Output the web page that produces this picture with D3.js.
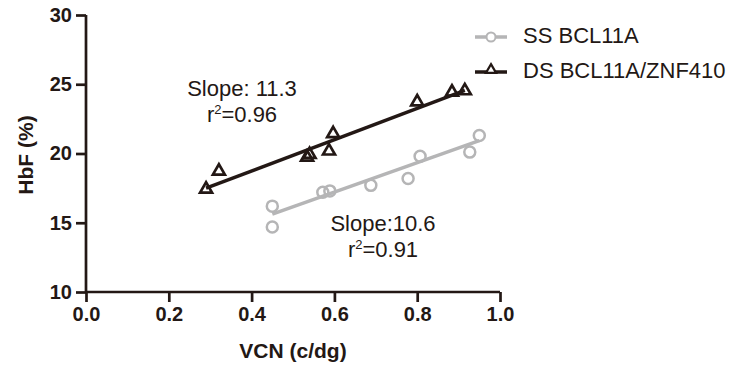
<!DOCTYPE html>
<html>
<head>
<meta charset="utf-8">
<script src="https://cdn.jsdelivr.net/npm/d3@7"></script>
<style>
  body { margin: 0; background: #fff; }
  text { font-family: Arial, "Liberation Sans", sans-serif; }
</style>
</head>
<body>
<div id="chart"></div>
<script>
// SS BCL11A (circles)
const ssVcn = [0.45, 0.45, 0.572, 0.589, 0.688, 0.778, 0.807, 0.927, 0.95];
const ssHbf = [16.2, 14.7, 17.2, 17.3, 17.7, 18.2, 19.8, 20.1, 21.3];
// DS BCL11A/ZNF410 (triangles)
const dsVcn = [0.29, 0.321, 0.534, 0.54, 0.587, 0.597, 0.80, 0.884, 0.915];
const dsHbf = [17.5, 18.8, 19.8, 20.0, 20.25, 21.5, 23.8, 24.5, 24.6];

// fitted lines: [slope, intercept, xStart, xEnd]
const ssFit = [10.6, 10.86, 0.45, 0.95];
const dsFit = [11.3, 14.22, 0.29, 0.915];

const xTicks = [0.0, 0.2, 0.4, 0.6, 0.8, 1.0];
const yTicks = [10, 15, 20, 25, 30];

const dark = "#231815";
const grey = "#b5b5b6";

const svg = d3.select("#chart").append("svg")
  .attr("width", 735)
  .attr("height", 372);

const x = d3.scaleLinear().domain([0, 1]).range([86, 500]);
const y = d3.scaleLinear().domain([10, 30]).range([292, 15]);

// axes
const xAxis = svg.append("g")
  .attr("transform", `translate(0,${y(10)})`)
  .call(d3.axisBottom(x).tickValues(xTicks).tickFormat(d3.format(".1f")).tickSize(10).tickPadding(5));
const yAxis = svg.append("g")
  .attr("transform", `translate(${x(0)},0)`)
  .call(d3.axisLeft(y).tickValues(yTicks).tickSize(10).tickPadding(4));

[xAxis, yAxis].forEach(g => {
  g.select(".domain").attr("stroke", dark).attr("stroke-width", 2.7);
  g.selectAll(".tick line").attr("stroke", dark).attr("stroke-width", 2.7);
  g.selectAll(".tick text")
    .attr("fill", dark)
    .attr("font-size", "20px")
    .attr("font-weight", "bold")
    .attr("font-family", "Arial, 'Liberation Sans', sans-serif");
});
xAxis.select(".domain").attr("d", `M${x(0)},0H${x(1)}`);
yAxis.select(".domain").attr("d", `M0,${y(30)}V${y(10)}`);

// axis titles
svg.append("text")
  .attr("x", 293).attr("y", 358)
  .attr("text-anchor", "middle")
  .attr("font-size", "21px").attr("font-weight", "bold")
  .attr("fill", dark)
  .text("VCN (c/dg)");
svg.append("text")
  .attr("transform", "translate(33,155) rotate(-90)")
  .attr("text-anchor", "middle")
  .attr("font-size", "21px").attr("font-weight", "bold")
  .attr("fill", dark)
  .text("HbF (%)");

// regression lines
function fitLine(fit, color) {
  const [m, b, x0, x1] = fit;
  svg.append("line")
    .attr("x1", x(x0)).attr("y1", y(m * x0 + b))
    .attr("x2", x(x1)).attr("y2", y(m * x1 + b))
    .attr("stroke", color).attr("stroke-width", 3.5);
}
fitLine(ssFit, grey);
fitLine(dsFit, dark);

const tri = d3.symbol().type(d3.symbolTriangle).size(62);

// points
svg.append("g").selectAll("circle")
  .data(ssVcn.map((v, i) => [v, ssHbf[i]]))
  .join("circle")
  .attr("cx", d => x(d[0])).attr("cy", d => y(d[1]))
  .attr("r", 5.5)
  .attr("fill", "none")
  .attr("stroke", grey).attr("stroke-width", 2.5);

svg.append("g").selectAll("path")
  .data(dsVcn.map((v, i) => [v, dsHbf[i]]))
  .join("path")
  .attr("d", tri)
  .attr("transform", d => `translate(${x(d[0])},${y(d[1]) + 1})`)
  .attr("fill", "none")
  .attr("stroke", dark).attr("stroke-width", 2.7);

// annotations
function note(cx, cy, slopeText, rText) {
  svg.append("text")
    .attr("x", cx).attr("y", cy)
    .attr("text-anchor", "middle")
    .attr("font-size", "22px").attr("fill", dark)
    .text(slopeText);
  const t = svg.append("text")
    .attr("x", cx).attr("y", cy + 26)
    .attr("text-anchor", "middle")
    .attr("font-size", "22px").attr("fill", dark);
  t.append("tspan").text("r");
  t.append("tspan").attr("font-size", "13px").attr("dy", -8).text("2");
  t.append("tspan").attr("dy", 8).text("=" + rText);
}
note(242, 96, "Slope: 11.3", "0.96");
note(383, 231, "Slope:10.6", "0.91");

// legend
const legend = [
  { label: "SS BCL11A", color: grey, shape: "circle", y: 37 },
  { label: "DS BCL11A/ZNF410", color: dark, shape: "tri", y: 72 }
];
legend.forEach(d => {
  svg.append("line")
    .attr("x1", 475).attr("x2", 507)
    .attr("y1", d.y).attr("y2", d.y)
    .attr("stroke", d.color).attr("stroke-width", 3.5);
  if (d.shape === "circle") {
    svg.append("circle")
      .attr("cx", 491).attr("cy", d.y).attr("r", 4.5)
      .attr("fill", "white").attr("stroke", d.color).attr("stroke-width", 2);
  } else {
    svg.append("path")
      .attr("d", d3.symbol().type(d3.symbolTriangle).size(45))
      .attr("transform", `translate(491,${d.y - 2})`)
      .attr("fill", "white").attr("stroke", d.color).attr("stroke-width", 2.2);
  }
  svg.append("text")
    .attr("x", 523).attr("y", d.y + 6)
    .attr("font-size", "22px").attr("fill", dark)
    .text(d.label);
});
</script>
</body>
</html>
